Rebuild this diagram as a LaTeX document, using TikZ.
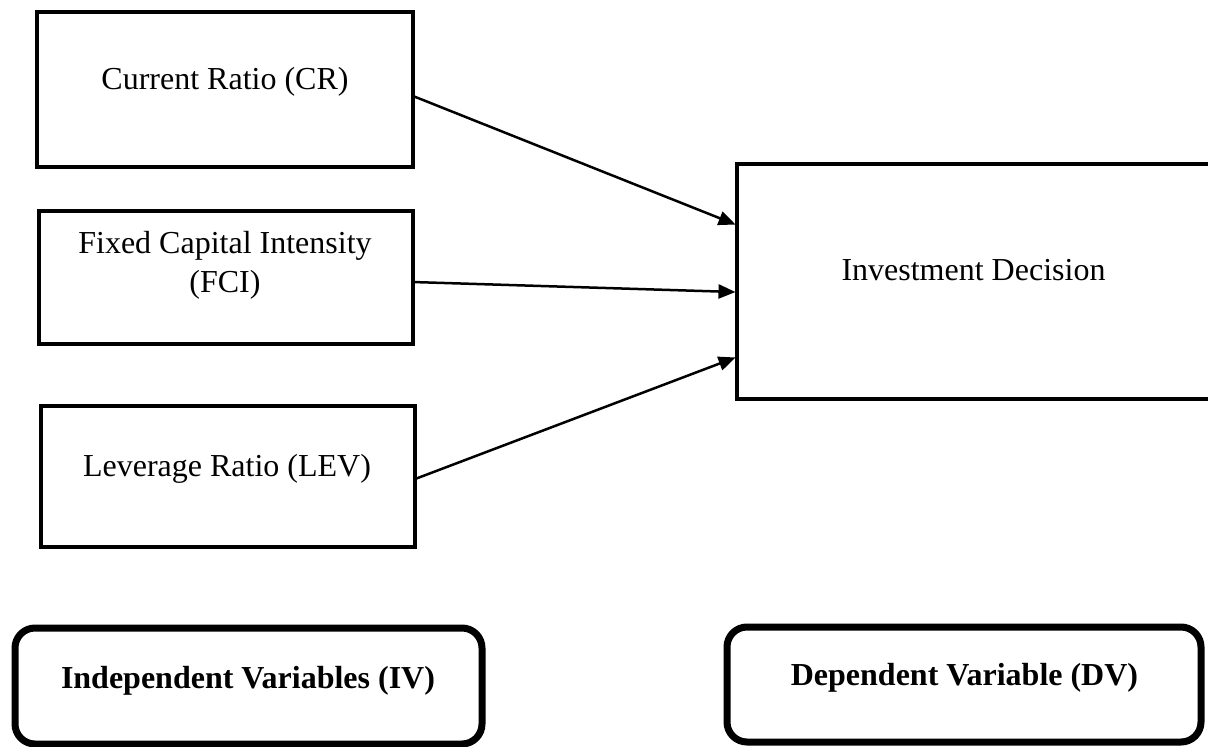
\documentclass[tikz,border=0pt]{standalone}
\usepackage{fontspec}
\setmainfont{Liberation Serif}
\usetikzlibrary{arrows.meta,calc}
\begin{document}
\begin{tikzpicture}[x=1pt,y=-1pt,
  varbox/.style={draw=black,line width=4pt,inner sep=0pt,outer sep=0pt,rectangle},
  labelbox/.style={draw=black,line width=7pt,inner sep=0pt,outer sep=0pt,rectangle,rounded corners=20pt},
  txt/.style={inner sep=0pt,font=\fontsize{32}{39}\selectfont,align=center},
  btxt/.style={inner sep=0pt,font=\fontsize{32}{38}\selectfont\bfseries},
  link/.style={line width=2.5pt,-{Triangle[length=17pt,width=14pt]},shorten >=1.5pt}
]
\useasboundingbox (0,0) rectangle (1208,747);
\clip (0,0) rectangle (1208,747);
\fill[white] (0,0) rectangle (1208,747);

% boxes
\node[varbox,minimum width=376pt,minimum height=155pt] (cr) at (225,89.5) {};
\node[varbox,minimum width=374pt,minimum height=133pt] (fci) at (226,277.5) {};
\node[varbox,minimum width=374pt,minimum height=141pt] (lev) at (228,476.5) {};
\node[varbox,minimum width=477pt,minimum height=235pt] (dv) at (975.5,281.5) {};

\node[labelbox,minimum width=467pt,minimum height=116pt] (ivlab) at (248.5,686) {};
\node[labelbox,minimum width=474pt,minimum height=115pt] (dvlab) at (964,684.5) {};

% texts
\node[txt,anchor=base] (crt) at (225,89) {Current Ratio (CR)};
\node[txt,anchor=base] (fcit) at (225,292) {Fixed Capital Intensity\\(FCI)};
\node[txt,anchor=base] (levt) at (227,476) {Leverage Ratio (LEV)};
\node[txt,anchor=base] (dvt) at (973.5,280) {Investment Decision};
\node[btxt,anchor=base] (ivlabt) at (248,688) {Independent Variables (IV)};
\node[btxt,anchor=base] (dvlabt) at (964.5,685) {Dependent Variable (DV)};

% connectors
\draw[link] ($(cr.north east)!0.542!(cr.south east)$) -- ($(dv.north west)!0.26!(dv.south west)$);
\draw[link] ($(fci.north east)!0.534!(fci.south east)$) -- ($(dv.north west)!0.545!(dv.south west)$);
\draw[link] ($(lev.north east)!0.518!(lev.south east)$) -- ($(dv.north west)!0.821!(dv.south west)$);
\end{tikzpicture}
\end{document}
